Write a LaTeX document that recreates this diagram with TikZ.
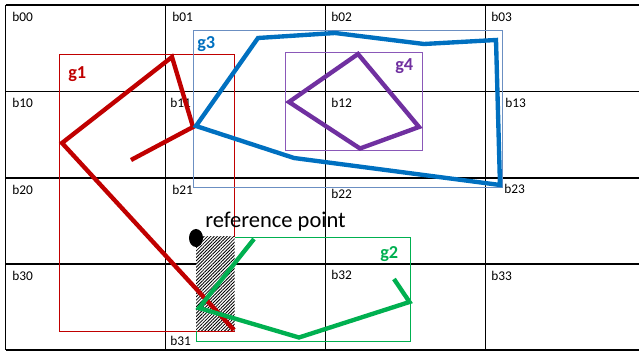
\documentclass[tikz,border=0pt]{standalone}
\usepackage{fontspec}
\setmainfont{Carlito}
\usepackage{xcolor}
\usetikzlibrary{patterns.meta}

\definecolor{gred}{HTML}{C00000}
\definecolor{gblue}{HTML}{0070C0}
\definecolor{gbluebox}{HTML}{6B8FC2}
\definecolor{gpurple}{HTML}{7030A0}
\definecolor{gpurplebox}{HTML}{8A58B8}
\definecolor{ggreen}{HTML}{00B050}

\begin{document}
\begin{tikzpicture}[
  x=0.025cm, y=-0.025cm,
  gridline/.style={line width=0.9pt, black},
  cell/.style={anchor=west, inner sep=0pt, font=\fontsize{9.5}{11}\selectfont},
  bbox/.style={line width=0.7pt},
  geom/.style={line width=3.1pt, miter limit=6},
  glabel/.style={anchor=west, inner sep=0pt, font=\fontsize{13}{15}\selectfont\bfseries}
]
\useasboundingbox (0,0) rectangle (639,352);

% grid of blocks
\draw[gridline] (5.5,5) -- (639,5);
\draw[gridline] (5.5,91.5) -- (639,91.5);
\draw[gridline] (5.5,178) -- (639,178);
\draw[gridline] (5.5,264) -- (639,264);
\draw[gridline] (5.5,350) -- (639,350);
\draw[gridline] (5.5,5) -- (5.5,350);
\draw[gridline] (165.5,5) -- (165.5,350);
\draw[gridline] (325.5,5) -- (325.5,350);
\draw[gridline] (485.5,5) -- (485.5,350);

\node[cell] (b00) at (12,17) {b00};
\node[cell] (b01) at (172,17) {b01};
\node[cell] (b02) at (331,17) {b02};
\node[cell] (b03) at (491,17) {b03};
\node[cell] (b10) at (12,103) {b10};
\node[cell] (b11) at (170,103) {b11};
\node[cell] (b12) at (331,103) {b12};
\node[cell] (b13) at (505,103) {b13};
\node[cell] (b20) at (12,190) {b20};
\node[cell] (b21) at (172,190) {b21};
\node[cell] (b22) at (331,194) {b22};
\node[cell] (b23) at (504,189) {b23};
\node[cell] (b30) at (12,276) {b30};
\node[cell] (b31) at (170,341) {b31};
\node[cell] (b32) at (331,275) {b32};
\node[cell] (b33) at (491,276) {b33};

% bounding boxes
\draw[bbox, gred] (59.5,54.5) rectangle (234.5,331);
\draw[bbox, gbluebox] (193.5,30.5) rectangle (502.5,187.5);
\draw[bbox, gpurplebox] (285,52.5) rectangle (422,150.5);
\draw[bbox, ggreen] (196,237) rectangle (410.5,341.5);

% overlap of g1 and g2
\fill[white] (196,237) rectangle (234.5,331);
\fill[pattern={Lines[angle=45, distance=1.65pt, line width=0.6pt]}] (196,237) rectangle (234.5,331);

% geometries
\draw[geom, gred] (131,160) -- (193,127) -- (172,57) -- (62,143) -- (234,330);
\draw[geom, gblue] (196,126) -- (258,38) -- (335,33) -- (424,44) -- (496,40)
  -- (500,185) -- (294,158) -- cycle;
\draw[geom, gpurple] (289,102) -- (358,54) -- (419,127) -- (360,148.5) -- cycle;
\draw[geom, ggreen] (254,239) -- (199,308) -- (299,337.5) -- (409.5,302) -- (394,279);

\node[glabel, gred] (g1) at (68,74) {g1};
\node[glabel, gblue] (g3) at (197,44) {g3};
\node[glabel, gpurple] (g4) at (395,66) {g4};
\node[glabel, ggreen] (g2) at (380,254) {g2};

% reference point
\fill[black] (196,238) ellipse [x radius=7, y radius=9];
\node[anchor=west, inner sep=0pt, font=\fontsize{16}{19}\selectfont] (ref) at (205,222) {reference point};
\end{tikzpicture}
\end{document}
